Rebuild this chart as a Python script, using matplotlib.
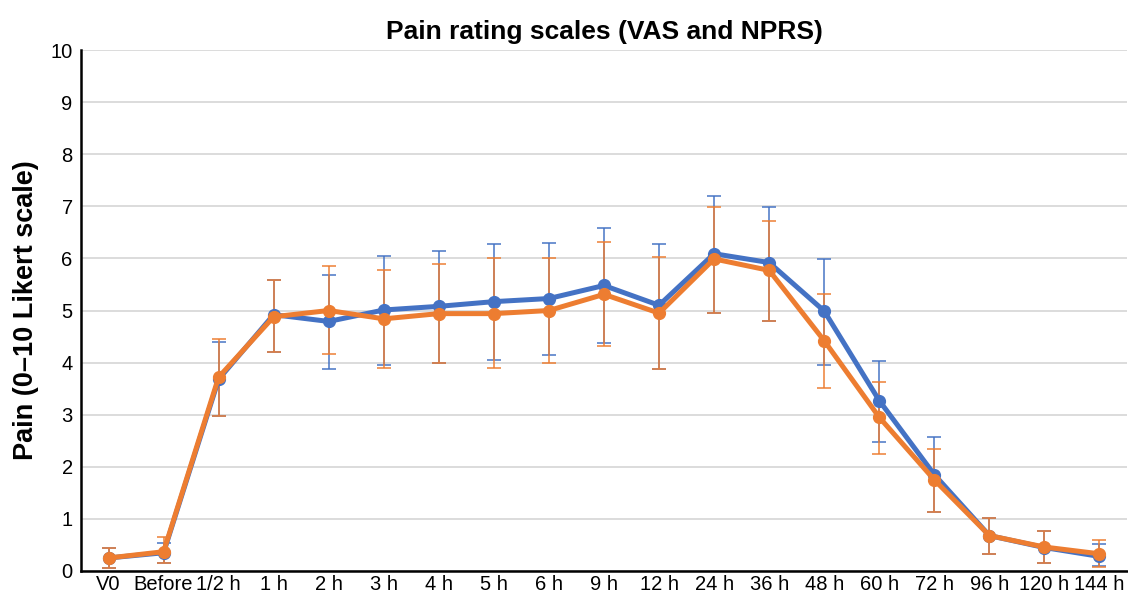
import numpy as np
import matplotlib
matplotlib.use("Agg")
import matplotlib.pyplot as plt

plt.rcParams['font.family'] = ['Liberation Sans', 'DejaVu Sans']

# time points
times = ["V0", "Before", "1/2 h", "1 h", "2 h", "3 h", "4 h", "5 h", "6 h", "9 h",
         "12 h", "24 h", "36 h", "48 h", "60 h", "72 h", "96 h", "120 h", "144 h"]

# VAS (blue)
vas = [0.25, 0.35, 3.68, 4.92, 4.79, 5.01, 5.08, 5.17, 5.23, 5.48,
       5.10, 6.09, 5.92, 4.99, 3.27, 1.85, 0.68, 0.45, 0.28]
vas_hi = [0.45, 0.53, 4.39, 5.59, 5.69, 6.05, 6.14, 6.28, 6.30, 6.58,
          6.28, 7.20, 6.99, 5.99, 4.03, 2.57, 1.02, 0.77, 0.52]
vas_lo = [0.06, 0.16, 2.97, 4.21, 3.88, 3.95, 4.00, 4.05, 4.14, 4.37,
          3.87, 4.96, 4.80, 3.96, 2.48, 1.13, 0.33, 0.16, 0.10]

# NPRS (orange)
nprs = [0.25, 0.37, 3.72, 4.88, 5.00, 4.84, 4.94, 4.94, 5.00, 5.31,
        4.95, 5.99, 5.77, 4.42, 2.95, 1.75, 0.68, 0.46, 0.33]
nprs_hi = [0.45, 0.66, 4.45, 5.59, 5.85, 5.78, 5.89, 6.00, 6.01, 6.31,
           6.03, 6.99, 6.72, 5.32, 3.62, 2.35, 1.02, 0.77, 0.59]
nprs_lo = [0.06, 0.16, 2.97, 4.21, 4.16, 3.89, 4.00, 3.89, 3.99, 4.31,
           3.87, 4.96, 4.80, 3.52, 2.25, 1.13, 0.33, 0.16, 0.08]

blue = "#4472C4"
orange = "#ED7D31"

fig = plt.figure(figsize=(11.28, 5.94), dpi=100)
ax = fig.add_axes([81/1128, 23/594, 1046/1128, 521/594])

x = np.arange(len(times))

for vals, hi, lo, col in [(vas, vas_hi, vas_lo, blue), (nprs, nprs_hi, nprs_lo, orange)]:
    v = np.array(vals)
    yerr = [v - np.array(lo), np.array(hi) - v]
    ax.errorbar(x, v, yerr=yerr, fmt='none', ecolor=col, elinewidth=1.2,
                capsize=5, capthick=1.2, alpha=0.9, zorder=3)
    ax.plot(x, v, color=col, lw=3.6, marker='o', ms=8.5, zorder=4)

ax.set_xlim(-0.5, len(times) - 0.5)
ax.set_ylim(0, 10)
ax.set_yticks(range(0, 11))
ax.set_xticks(x)
ax.set_xticklabels(times)
ax.tick_params(axis='both', labelsize=14.5, length=0)
ax.tick_params(axis='x', pad=3)
ax.tick_params(axis='y', pad=6)

ax.grid(axis='y', color='#d9d9d9', lw=1.3, zorder=0)
ax.set_axisbelow(True)
for s in ['top', 'right']:
    ax.spines[s].set_visible(False)
ax.spines['left'].set_linewidth(1.8)
ax.spines['bottom'].set_linewidth(1.8)

ax.set_title("Pain rating scales (VAS and NPRS)", fontsize=19, fontweight='bold', pad=8)
ax.set_ylabel("Pain (0\u201310 Likert scale)", fontsize=19.5, fontweight='bold', labelpad=8)

fig.savefig("out.png", dpi=100)
